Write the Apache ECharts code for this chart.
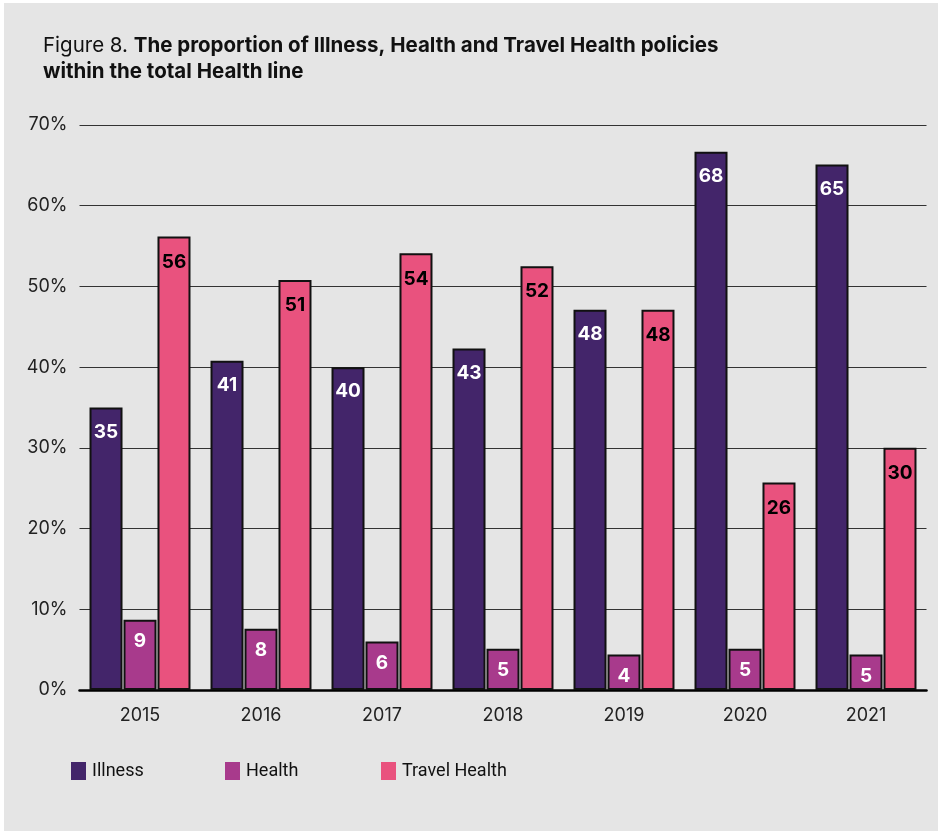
<!DOCTYPE html>
<html>
<head>
<meta charset="utf-8">
<script src="https://cdn.jsdelivr.net/npm/echarts@6/dist/echarts.min.js"></script>
<style>
  html, body { margin: 0; padding: 0; background: #ffffff; }
  #chart { position: absolute; left: 4px; top: 3px; width: 934px; height: 828px; }
</style>
</head>
<body>
<div id="chart"></div>
<script>
const categories = ['2015', '2016', '2017', '2018', '2019', '2020', '2021'];
const seriesNames = ['Illness', 'Health', 'Travel Health'];
const illnessValues = [35.0, 40.8, 40.0, 42.3, 47.1, 66.7, 65.1];
const healthValues = [8.7, 7.6, 6.0, 5.1, 4.4, 5.1, 4.4];
const travelValues = [56.2, 50.8, 54.1, 52.5, 47.1, 25.7, 30.0];
const illnessLabels = [35, 41, 40, 43, 48, 68, 65];
const healthLabels = [9, 8, 6, 5, 4, 5, 5];
const travelLabels = [56, 51, 54, 52, 48, 26, 30];
const yTicks = [0, 10, 20, 30, 40, 50, 60, 70];

const colors = ['#43256a', '#a83a8c', '#e9527e'];
const chart = echarts.init(document.getElementById('chart'));

function makeSeries(name, values, labels, color, labelColor, dist) {
  return {
    name: name,
    type: 'bar',
    data: values,
    barWidth: 33,
    barGap: '3%',
    itemStyle: { color: color, borderColor: '#111', borderWidth: 2 },
    label: {
      show: true,
      position: 'insideTop',
      distance: dist,
      color: labelColor,
      fontFamily: 'Inter',
      fontWeight: 'bold',
      fontSize: 19,
      formatter: p => String(labels[p.dataIndex])
    }
  };
}

const legendLefts = [67, 221, 377];
const legends = seriesNames.map((n, i) => ({
  left: legendLefts[i],
  top: 759,
  padding: 0,
  itemWidth: 15,
  itemHeight: 18,
  itemGap: 6,
  icon: 'rect',
  itemStyle: { borderWidth: 0 },
  data: [n],
  textStyle: { fontFamily: 'Roboto', fontSize: 18, color: '#111', padding: [0, 0, 0, 1] }
}));

chart.setOption({
  backgroundColor: '#e5e5e5',
  animation: false,
  color: colors,
  title: {
    left: 34,
    top: 25,
    text: '{r|Figure 8. }{b|The proportion of Illness, Health and Travel Health policies}\n{b|within the total Health line}',
    textStyle: {
      fontWeight: 'normal',
      rich: {
        r: { fontFamily: 'Inter', fontWeight: 'normal', fontSize: 20.5, color: '#111', lineHeight: 26 },
        b: { fontFamily: 'Inter', fontWeight: 'bold', fontSize: 20.5, color: '#111', lineHeight: 26 }
      }
    }
  },
  legend: legends,
  grid: { left: 75.5, right: 11.5, top: 122, bottom: 141, containLabel: false },
  xAxis: {
    type: 'category',
    data: categories,
    axisLine: { show: true, lineStyle: { color: '#000', width: 2.5 } },
    axisTick: { show: false },
    axisLabel: { fontFamily: 'Inter', fontSize: 18, color: '#222', margin: 17 }
  },
  yAxis: {
    type: 'value',
    min: yTicks[0],
    max: yTicks[yTicks.length - 1],
    interval: 10,
    axisLine: { show: false },
    axisTick: { show: false },
    axisLabel: { fontFamily: 'Inter', fontSize: 18, color: '#222', margin: 12, formatter: '{value}%' },
    splitLine: { show: true, lineStyle: { color: '#333', width: 1.2 } }
  },
  series: [
    makeSeries(seriesNames[0], illnessValues, illnessLabels, colors[0], '#fff', 15),
    makeSeries(seriesNames[1], healthValues, healthLabels, colors[1], '#fff', 12),
    makeSeries(seriesNames[2], travelValues, travelLabels, colors[2], '#000', 16)
  ]
});
</script>
</body>
</html>
